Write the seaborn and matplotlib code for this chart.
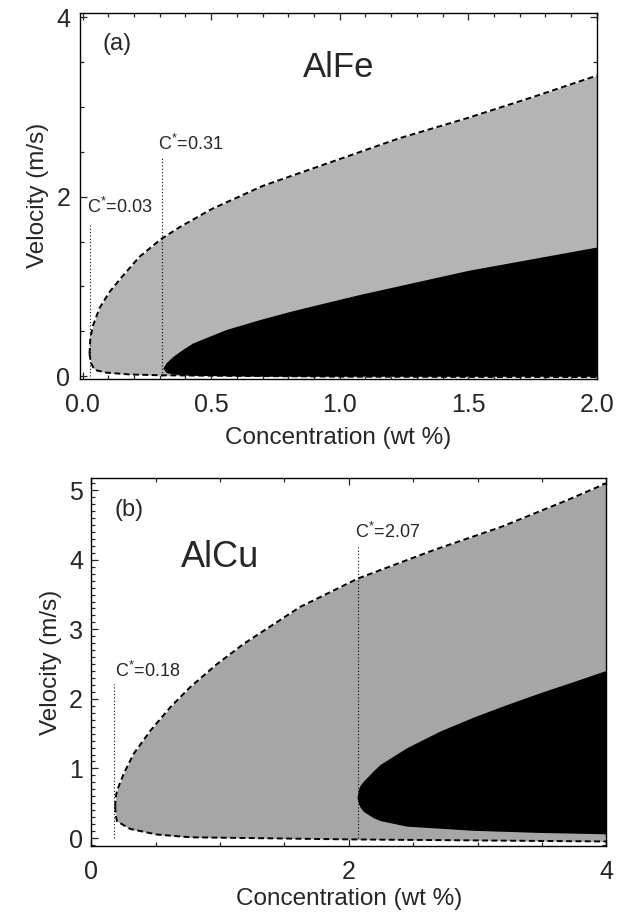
import matplotlib
matplotlib.use('Agg')
import matplotlib.pyplot as plt
from matplotlib.ticker import MultipleLocator
import seaborn as sns
import pandas as pd
import numpy as np

# ---- panel (a) AlFe: region boundaries ----
fe_up_x = [0.027, 0.03, 0.04, 0.066, 0.105, 0.157, 0.221, 0.306, 0.377, 0.5, 0.7, 1.0, 1.23, 1.5, 1.75, 2.0]
fe_up_v = [0.25, 0.42, 0.56, 0.76, 0.94, 1.12, 1.33, 1.53, 1.66, 1.86, 2.12, 2.42, 2.65, 2.88, 3.11, 3.35]
fe_lo_x = [0.027, 0.032, 0.047, 0.092, 0.18, 0.306, 1.0, 2.0]
fe_lo_v = [0.25, 0.15, 0.07, 0.04, 0.02, 0.01, -0.005, -0.01]
fe_blk_x = [0.312, 0.325, 0.351, 0.39, 0.428, 0.558, 0.687, 0.817, 0.946, 1.076, 1.5, 2.0]
fe_blk_top = [0.09, 0.15, 0.22, 0.30, 0.37, 0.52, 0.63, 0.73, 0.82, 0.91, 1.18, 1.44]
fe_blk_bot = [0.09, 0.04, 0.025, 0.015, 0.01, 0.005, 0.0, 0.0, 0.0, 0.0, 0.0, 0.0]
fe_cstar = [0.03, 0.31]
fe_cstar_top = [1.69, 2.43]
fe_cstar_lab = ['0.03', '0.31']

# ---- panel (b) AlCu ----
cu_up_x = [0.186, 0.19, 0.2, 0.251, 0.329, 0.458, 0.614, 0.769, 0.976, 1.183, 1.62, 2.07, 2.66, 3.18, 3.7, 4.0]
cu_up_v = [0.45, 0.58, 0.68, 0.92, 1.21, 1.54, 1.88, 2.17, 2.50, 2.79, 3.32, 3.73, 4.14, 4.47, 4.86, 5.1]
cu_lo_x = [0.186, 0.19, 0.2, 0.303, 0.51, 0.77, 1.2, 2.0, 4.0]
cu_lo_v = [0.45, 0.33, 0.24, 0.13, 0.05, 0.01, 0.0, -0.02, -0.05]
cu_blk_x = [2.064, 2.075, 2.089, 2.115, 2.193, 2.245, 2.452, 2.711, 2.97, 3.229, 3.487, 3.746, 4.0]
cu_blk_top = [0.58, 0.70, 0.76, 0.82, 0.97, 1.06, 1.30, 1.54, 1.74, 1.92, 2.09, 2.25, 2.41]
cu_blk_bot = [0.58, 0.50, 0.44, 0.38, 0.29, 0.25, 0.17, 0.14, 0.11, 0.095, 0.08, 0.07, 0.06]
cu_cstar = [0.18, 2.07]
cu_cstar_top = [2.22, 4.18]
cu_cstar_lab = ['0.18', '2.07']

sns.set_style('ticks')
plt.rcParams['font.family'] = ['Liberation Sans', 'DejaVu Sans']
plt.rcParams['mathtext.fontset'] = 'custom'
plt.rcParams['mathtext.rm'] = 'Liberation Sans'
plt.rcParams['mathtext.it'] = 'Liberation Sans'

fig = plt.figure(figsize=(6.25, 9.13), dpi=100)
ax_a = fig.add_axes([0.128, 0.585, 0.827, 0.401])
ax_b = fig.add_axes([0.146, 0.073, 0.824, 0.403])


def draw_panel(ax, up_x, up_v, lo_x, lo_v, bx, btop, bbot, cs, cs_top, cs_lab, lab_off, gray, xpad):
    up = pd.DataFrame({'x': up_x, 'v': up_v})
    lo = pd.DataFrame({'x': lo_x, 'v': lo_v})
    # gray region between upper and lower boundary
    xs = sorted(set(up_x) | set(lo_x))
    ax.fill_between(xs, np.interp(xs, lo_x, lo_v), np.interp(xs, up_x, up_v),
                    color=gray, lw=0, zorder=1)
    ax.fill_between(bx, bbot, btop, color='black', lw=0, zorder=2)
    for d in (up, lo):
        sns.lineplot(data=d, x='x', y='v', ax=ax, sort=False, estimator=None,
                     color='black', lw=1.4, ls=(0, (3, 1.8)), zorder=3)
    for c, top, lab, (dx, dy) in zip(cs, cs_top, cs_lab, lab_off):
        ax.plot([c, c], [0, top], color='black', lw=0.8, ls=(0, (1, 2)), zorder=4)
        ax.text(c + dx, top + dy, r'C$^{*}$=' + lab, fontsize=13, ha='left', va='baseline')
    ax.tick_params(which='both', direction='in', top=True, right=True, labelsize=18,
                   width=0.9)
    ax.tick_params(which='major', length=5)
    ax.tick_params(which='minor', length=3)
    for s in ax.spines.values():
        s.set_linewidth(1.0)
        s.set_color('black')
    ax.set_xlabel('Concentration (wt %)', fontsize=17.5, labelpad=xpad)
    ax.set_ylabel('Velocity (m/s)', fontsize=17.5, labelpad=5)


draw_panel(ax_a, fe_up_x, fe_up_v, fe_lo_x, fe_lo_v, fe_blk_x, fe_blk_top, fe_blk_bot,
           fe_cstar, fe_cstar_top, fe_cstar_lab, [(-0.014, 0.13), (-0.015, 0.09)], '#b4b4b4', 7)
draw_panel(ax_b, cu_up_x, cu_up_v, cu_lo_x, cu_lo_v, cu_blk_x, cu_blk_top, cu_blk_bot,
           cu_cstar, cu_cstar_top, cu_cstar_lab, [(0.005, 0.09), (-0.02, 0.14)], '#a6a6a6', 3)

ax_a.set_xlim(-0.01, 2.0)
ax_a.set_ylim(-0.03, 4.05)
ax_a.xaxis.set_minor_locator(MultipleLocator(0.1))
ax_a.yaxis.set_major_locator(MultipleLocator(2))
ax_a.yaxis.set_minor_locator(MultipleLocator(0.5))
ax_a.set_xticks([0, 0.5, 1.0, 1.5, 2.0], ['0.0', '0.5', '1.0', '1.5', '2.0'])
ax_a.tick_params(axis='x', pad=10)
ax_a.tick_params(axis='y', pad=7)
ax_a.text(0.043, 0.915, '(a)', transform=ax_a.transAxes, fontsize=17, va='center')
ax_a.text(0.5, 0.85, 'AlFe', transform=ax_a.transAxes, fontsize=25, ha='center', va='center')

ax_b.set_xlim(0, 4)
ax_b.set_ylim(-0.12, 5.17)
ax_b.xaxis.set_major_locator(MultipleLocator(2))
ax_b.xaxis.set_minor_locator(MultipleLocator(0.5))
ax_b.yaxis.set_major_locator(MultipleLocator(1))
ax_b.yaxis.set_minor_locator(MultipleLocator(0.1))
ax_b.tick_params(axis='x', pad=10)
ax_b.tick_params(axis='y', pad=6)
ax_b.text(0.045, 0.915, '(b)', transform=ax_b.transAxes, fontsize=17, va='center')
ax_b.text(0.25, 0.785, 'AlCu', transform=ax_b.transAxes, fontsize=26, ha='center', va='center')

fig.savefig('out.png', dpi=100, facecolor='white')
